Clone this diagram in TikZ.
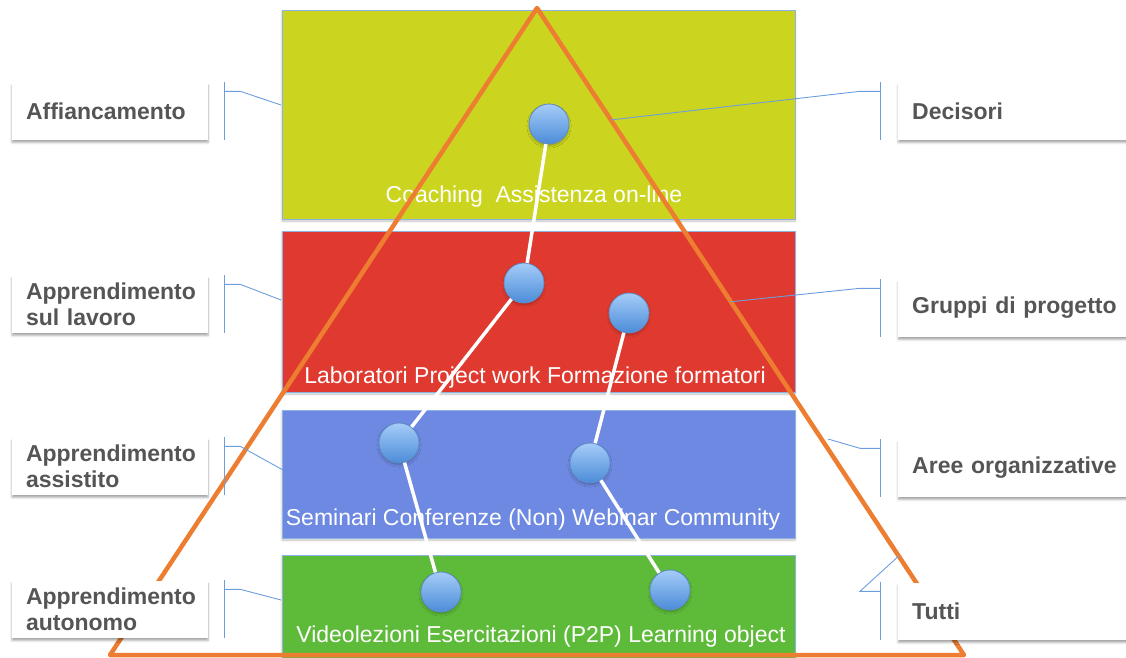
\documentclass[tikz,border=0pt]{standalone}
\usepackage{fontspec}
\setmainfont{Liberation Sans}
\usetikzlibrary{calc,shadows.blur}
\definecolor{LayerYellow}{RGB}{203,213,32}
\definecolor{LayerRed}{RGB}{224,58,48}
\definecolor{LayerBlue}{RGB}{110,137,226}
\definecolor{LayerGreen}{RGB}{94,187,58}
\definecolor{PyrOrange}{RGB}{237,125,49}
\definecolor{EdgeBlue}{RGB}{141,179,226}
\definecolor{BraceBlue}{RGB}{108,158,222}
\definecolor{LabelGray}{RGB}{85,85,85}
\definecolor{BallTop}{RGB}{165,204,248}
\definecolor{BallBot}{RGB}{75,140,216}
\definecolor{BallEdge}{RGB}{95,140,200}
\begin{document}
\begin{tikzpicture}[x=1pt,y=-1pt,
layer/.style={draw=EdgeBlue,line width=.8pt,inner sep=0pt,outer sep=0pt,minimum width=513pt,blur shadow={shadow xshift=0pt,shadow yshift=-2pt,shadow opacity=25}},
lyrtxt/.style={text=white,font=\fontsize{23}{26}\selectfont,inner sep=0pt},
ball/.style={circle,minimum size=40pt,inner sep=0pt,top color=BallTop,bottom color=BallBot,draw=BallEdge,line width=.8pt,blur shadow={shadow xshift=0pt,shadow yshift=-2pt,shadow opacity=25}},
link/.style={white,line width=3.5pt},
tag/.style={fill=white,text=LabelGray,font=\bfseries\fontsize{23}{26}\selectfont,align=left,minimum height=57pt,inner xsep=14pt,inner ysep=4pt,blur shadow={shadow xshift=0pt,shadow yshift=-3pt,shadow opacity=35}},
brk/.style={BraceBlue,line width=.9pt},
pyr/.style={PyrOrange,line width=4.5pt,line join=round}]
\path[use as bounding box,clip] (0,0) rectangle (1126,657);
% pyramid layers
\node[layer,fill=LayerYellow,minimum height=209pt] (L1) at (538.5,114.5) {};
\node[layer,fill=LayerRed,minimum height=161pt] (L2) at (538.5,311.5) {};
\node[layer,fill=LayerBlue,minimum height=128pt] (L3) at (538.5,474) {};
\node[layer,fill=LayerGreen,minimum height=115pt] (L4) at (538.5,612.5) {};
\node[lyrtxt] (t1) at (534,197) {Coaching\ \ Assistenza on-line};
\node[lyrtxt] (t2) at (535,378) {Laboratori Project work Formazione formatori};
\node[lyrtxt] (t3) at (533,520) {Seminari Conferenze (Non) Webinar Community};
\node[lyrtxt] (t4) at (541,637) {Videolezioni Esercitazioni (P2P) Learning object};
% triangle
\coordinate (apex) at (537,8); \coordinate (bl) at (110,655); \coordinate (br) at (964,655);
\draw[pyr] (apex) -- (bl) -- (br) -- cycle;
% paths between the balls
\node[ball] (coach) at (549,124) {};
\node[ball] (lab) at (524,283) {};
\node[ball] (form) at (629,313) {};
\node[ball] (sem) at (399,443) {};
\node[ball] (web) at (590,463) {};
\node[ball] (video) at (441,592) {};
\node[ball] (lo) at (670,590) {};
\draw[link] (coach)--(lab)--(sem)--(video); \draw[link] (form)--(web)--(lo);
% labels left
\node[tag,text width=168pt] (affianc) at (110,111) {Affiancamento};
\node[tag,text width=168pt] (lavoro) at (110,304) {Apprendimento\\sul lavoro};
\node[tag,text width=168pt] (assist) at (110,466) {Apprendimento\\assistito};
\node[tag,text width=168pt] (autonomo) at (110,609) {Apprendimento\\autonomo};
% labels right
\node[tag,text width=215pt,anchor=west] (decisori) at (898,111) {Decisori};
\node[tag,text width=215pt,anchor=west] (gruppi) at (898,308) {Gruppi di progetto};
\node[tag,text width=215pt,anchor=west] (aree) at (898,468) {Aree organizzative};
\node[tag,text width=215pt,anchor=west] (tutti) at (898,611) {Tutti};
% brackets
\coordinate (tAff) at (281,105); \coordinate (tLav) at (281,300); \coordinate (tAss) at (283,470); \coordinate (tAut) at (281,600);
\coordinate (tDec) at ($(apex)!.173!(br)$); \coordinate (tGru) at ($(apex)!.454!(br)$); \coordinate (tAre) at (828,439); \coordinate (tTut) at ($(apex)!.847!(br)$);
\foreach \n/\t in {affianc/tAff,lavoro/tLav,assist/tAss,autonomo/tAut}{
  \draw[brk] ([xshift=16pt]\n.north east) -- ([xshift=16pt]\n.south east);
  \draw[brk] ([shift={(16pt,-9pt)}]\n.north east) -- ++(16,0) -- (\t);}
\foreach \n/\t in {decisori/tDec,gruppi/tGru,aree/tAre,tutti/tTut}{
  \draw[brk] ([xshift=-18pt]\n.north west) -- ([xshift=-18pt]\n.south west);
  \draw[brk] ([shift={(-18pt,-9pt)}]\n.north west) -- ++(-20,0) -- (\t);}
\end{tikzpicture}
\end{document}
